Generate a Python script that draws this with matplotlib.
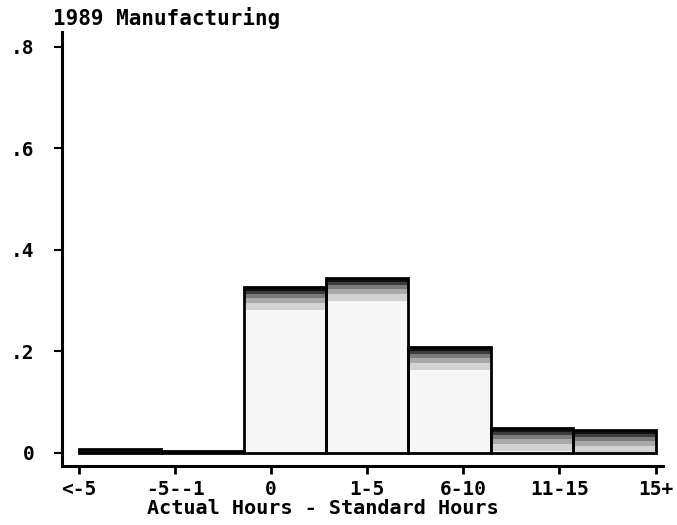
import numpy as np
import matplotlib.pyplot as plt

# data
categories = ["<-5", "-5--1", "0", "1-5", "6-10", "11-15", "15+"]
fractions = [0.008, 0.004, 0.327, 0.345, 0.209, 0.049, 0.045]
yticks = [0, 0.2, 0.4, 0.6, 0.8]
yticklabels = ["0", ".2", ".4", ".6", ".8"]

plt.rcParams['font.family'] = ['DejaVu Sans Mono']

fig = plt.figure(figsize=(6.77, 5.25), dpi=100)
ax = fig.add_axes([0.0916, 0.1124, 0.888, 0.8267])

# categories sit at 1..n, histogram-style bins of width (n-1)/n span them
n = len(categories)
xpos = np.arange(1, n + 1)
width = (n - 1) / n
lefts = 1 + np.arange(n) * width
vals = np.array(fractions)

# body
ax.bar(lefts, vals, width=width, align='edge', color='#f6f6f6', edgecolor='none')
# darker shading towards the top, like the stipple in the scan
shades = [(0.045, '#d2d2d2'), (0.032, '#a8a8a8'), (0.022, '#7a7a7a'),
          (0.014, '#3c3c3c'), (0.008, '#101010')]
for depth, c in shades:
    ax.bar(lefts, np.minimum(vals, depth), bottom=np.maximum(vals - depth, 0),
           width=width, align='edge', color=c, edgecolor='none')
# outlines
ax.bar(lefts, vals, width=width, align='edge', fill=False, edgecolor='black', linewidth=2)

ax.set_xlim(0.823, 7.08)
ax.set_ylim(-0.0256, 0.8296)

ax.set_xticks(xpos)
ax.set_xticklabels(categories)
ax.set_yticks(yticks)
ax.set_yticklabels(yticklabels)

for s in ['top', 'right']:
    ax.spines[s].set_visible(False)
for s in ['left', 'bottom']:
    ax.spines[s].set_linewidth(2.2)

ax.tick_params(axis='x', length=6, width=2, direction='out', pad=4, labelsize=14)
ax.tick_params(axis='y', length=6, width=1.5, direction='out', pad=14, labelsize=14)
for lab in ax.get_xticklabels() + ax.get_yticklabels():
    lab.set_fontweight('bold')

fig.text(53 / 677, 1 - 18 / 525, "1989 Manufacturing", fontsize=15,
         fontweight='bold', ha='left', va='center')
fig.text(323 / 677, 1 - 509 / 525, "Actual Hours - Standard Hours", fontsize=14.5,
         fontweight='bold', ha='center', va='center')

fig.savefig("out.png", dpi=100)
